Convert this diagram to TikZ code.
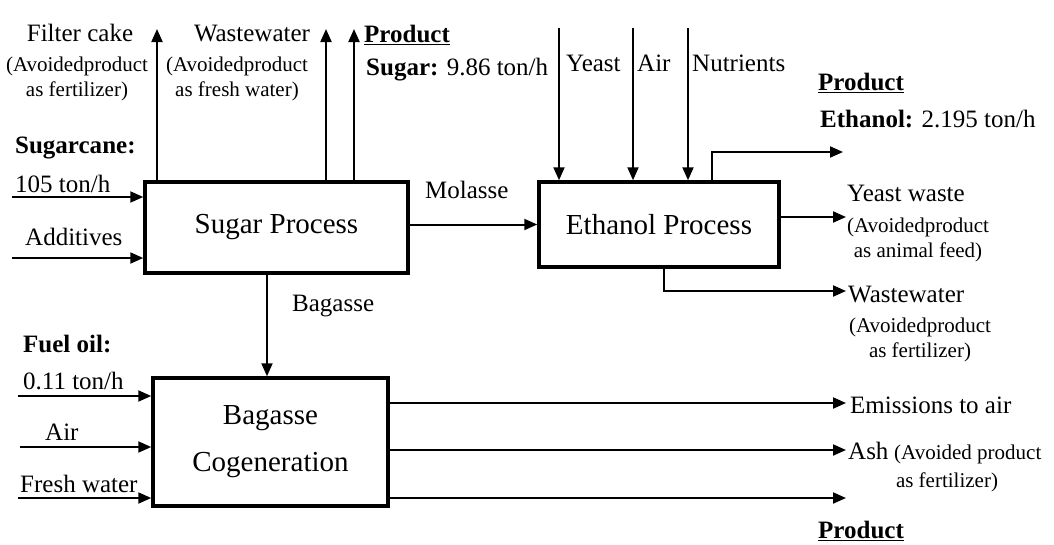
\documentclass[tikz,border=0pt]{standalone}
\usepackage{fontspec}
\setmainfont{Liberation Serif}
\usetikzlibrary{arrows.meta, positioning}

\begin{document}
\begin{tikzpicture}[
  x=1pt, y=-1pt,
  proc/.style={
    rectangle, draw, line width=3.5pt,
    align=center, inner sep=0pt,
    font=\fontsize{29}{47}\selectfont
  },
  lbl/.style={inner sep=0pt, font=\fontsize{25}{30}\selectfont},
  note/.style={inner sep=0pt, align=center, font=\fontsize{21}{25}\selectfont},
  arr/.style={-{Triangle[length=13pt, width=11pt]}, line width=2pt}
]
\useasboundingbox (0,0) rectangle (1054,544);

% process boxes
\node[proc, minimum width=263pt, minimum height=91pt] (sugar) at (276.5,227.5) {Sugar Process};
\node[proc, minimum width=240pt, minimum height=85pt] (ethanol) at (659,224.5) {Ethanol Process};
\node[proc, minimum width=235pt, minimum height=128pt] (cogen) at (270.5,442) {Bagasse\\Cogeneration};

% free ends
\coordinate (scin) at (12,197);
\coordinate (adin) at (12,258);
\coordinate (fcout) at (157,29);
\coordinate (wwout) at (326,29);
\coordinate (spout) at (354,29);
\coordinate (yin) at (559,28);
\coordinate (ain) at (633,28);
\coordinate (nin) at (688,28);
\coordinate (etup) at (712,152);
\coordinate (etout) at (843,152);
\coordinate (ywout) at (846,217);
\coordinate (ewdown) at (664,291);
\coordinate (ewout) at (846,291);
\coordinate (bg) at (267,320);
\coordinate (foin) at (18,396);
\coordinate (airin) at (20,447);
\coordinate (fwin) at (18,498);
\coordinate (emout) at (846,403);
\coordinate (ashout) at (846,450);
\coordinate (prout) at (846,498);

% sugar process
\draw[arr] (scin) -- (scin -| sugar.west);
\draw[arr] (adin) -- (adin -| sugar.west);
\draw[arr] (fcout |- sugar.north) -- (fcout);
\draw[arr] (wwout |- sugar.north) -- (wwout);
\draw[arr] (spout |- sugar.north) -- (spout);
\draw[arr] (sugar.east |- ethanol.west) -- (ethanol.west);
\draw[arr] (bg |- sugar.south) -- (bg |- cogen.north);

% ethanol process
\draw[arr] (yin) -- (yin |- ethanol.north);
\draw[arr] (ain) -- (ain |- ethanol.north);
\draw[arr] (nin) -- (nin |- ethanol.north);
\draw[arr] (etup |- ethanol.north) -- (etup) -- (etout);
\draw[arr] (ywout -| ethanol.east) -- (ywout);
\draw[arr] (ewdown |- ethanol.south) -- (ewdown) -- (ewout);

% cogeneration
\draw[arr] (foin) -- (foin -| cogen.west);
\draw[arr] (airin) -- (airin -| cogen.west);
\draw[arr] (fwin) -- (fwin -| cogen.west);
\draw[arr] (emout -| cogen.east) -- (emout);
\draw[arr] (ashout -| cogen.east) -- (ashout);
\draw[arr] (prout -| cogen.east) -- (prout);

% labels
\node[lbl, anchor=base] (fc) at (80,41) {Filter cake};
\node[note] (fcnote) at (77,79) {(Avoidedproduct\\as fertilizer)};
\node[lbl, anchor=base] (ww) at (252,41) {Wastewater};
\node[note] (wwnote) at (237,79) {(Avoidedproduct\\as fresh water)};
\node[lbl, anchor=base west] (sp) at (364,42) {\textbf{\underline{Product}}};
\node[lbl, anchor=base west] (spval) at (366,75) {\textbf{Sugar:} 9.86 ton/h};
\node[lbl, anchor=base west] (sc) at (15,153) {\textbf{Sugarcane:}};
\node[lbl, anchor=base west] (scval) at (15,192) {105 ton/h};
\node[lbl, anchor=base west] (ad) at (25,245) {Additives};
\node[lbl, anchor=base west] (mo) at (425,198) {Molasse};
\node[lbl, anchor=base west] (ye) at (566,71) {Yeast};
\node[lbl, anchor=base west] (ai) at (637,71) {Air};
\node[lbl, anchor=base west] (nu) at (692,71) {Nutrients};
\node[lbl, anchor=base west] (ep) at (818,90) {\textbf{\underline{Product}}};
\node[lbl, anchor=base west] (epval) at (820,127) {\textbf{Ethanol:} 2.195 ton/h};
\node[lbl, anchor=base west] (yw) at (847,201) {Yeast waste};
\node[note] (ywnote) at (918,240) {(Avoidedproduct\\as animal feed)};
\node[lbl, anchor=base west] (ew) at (848,302) {Wastewater};
\node[note] (ewnote) at (920,340) {(Avoidedproduct\\as fertilizer)};
\node[lbl, anchor=base west] (bga) at (292,311) {Bagasse};
\node[lbl, anchor=base west] (fo) at (23,352) {\textbf{Fuel oil:}};
\node[lbl, anchor=base west] (foval) at (23,389) {0.11 ton/h};
\node[lbl, anchor=base west] (air) at (45,440) {Air};
\node[lbl, anchor=base west] (fw) at (20,492) {Fresh water};
\node[lbl, anchor=base west] (em) at (850,413) {Emissions to air};
\node[lbl, anchor=base west] (ash) at (848,459) {Ash};
\node[note, anchor=base west] (ashnote) at (894,459) {(Avoided product};
\node[note, anchor=base] (ashnote2) at (947,487) {as fertilizer)};
\node[lbl, anchor=base west] (cp) at (818,538) {\textbf{\underline{Product}}};
\end{tikzpicture}
\end{document}
